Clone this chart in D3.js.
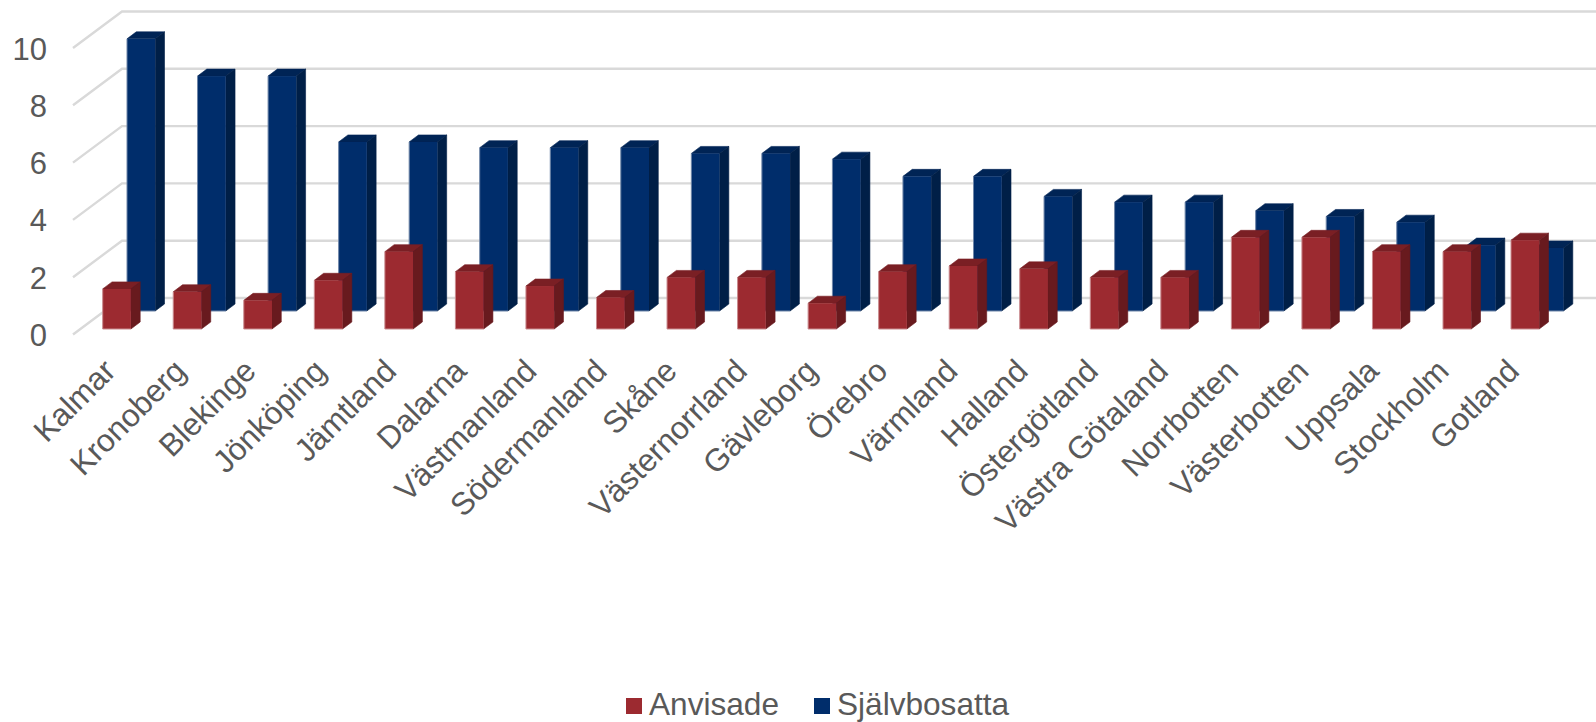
<!DOCTYPE html>
<html><head><meta charset="utf-8">
<script src="https://cdnjs.cloudflare.com/ajax/libs/d3/7.8.5/d3.min.js"></script>
<style>html,body{margin:0;padding:0;background:#fff}svg{display:block}</style>
</head><body><svg id="c" width="1596" height="722"></svg>
<script>
const categories=["Kalmar","Kronoberg","Blekinge","Jönköping","Jämtland","Dalarna","Västmanland","Södermanland","Skåne","Västernorrland","Gävleborg","Örebro","Värmland","Halland","Östergötland","Västra Götaland","Norrbotten","Västerbotten","Uppsala","Stockholm","Gotland"];
const anvisade=[1.4,1.3,1.0,1.7,2.7,2.0,1.5,1.1,1.8,1.8,0.9,2.0,2.2,2.1,1.8,1.8,3.2,3.2,2.7,2.7,3.1];
const sjalvbosatta=[9.5,8.2,8.2,5.9,5.9,5.7,5.7,5.7,5.5,5.5,5.3,4.7,4.7,4.0,3.8,3.8,3.5,3.3,3.1,2.3,2.2];
const yTicks=[0,2,4,6,8,10];
const seriesNames=["Anvisade","Självbosatta"];

const svg=d3.select("#c");
const font="'Liberation Sans',Arial,sans-serif";
const textCol="#595959", gridCol="#D9D9D9";

const yFront=d3.scaleLinear().domain([0,10]).range([334.5,48]);
const yBack=d3.scaleLinear().domain([0,10]).range([298,11.5]);
const yRed=d3.scaleLinear().domain([0,10]).range([329,42.5]);
const yBlue=d3.scaleLinear().domain([0,10]).range([311,24.5]);
const xFront=73,xBack=122,xEnd=1596;
const idx=d3.scaleLinear().domain([0,19,20]).range([102.7,1443,1511]);
const labelX=d3.scaleLinear().domain([0,20]).range([111.5,1515]);
const barW=28.2,dx=9.3,dy=7;

const grid=svg.append("g");
yTicks.forEach(t=>{
  grid.append("path").attr("d",d3.line()([[xFront,yFront(t)],[xBack,yBack(t)],[xEnd,yBack(t)]]))
   .attr("fill","none").attr("stroke",gridCol).attr("stroke-width",2.4);
});
svg.append("g").selectAll("text").data(yTicks).join("text")
 .attr("x",47).attr("y",d=>yFront(d)+11.5).attr("text-anchor","end")
 .attr("font-family",font).attr("font-size",31).attr("fill",textCol).text(d=>d);

function bars(vals,y,off,front,top,side,edge){
  const g=svg.append("g");
  vals.forEach((v,i)=>{
    const x0=idx(i)+off,x1=x0+barW,yt=y(v),yb=y(0);
    g.append("path").attr("d",d3.line()([[x0,yt],[x0+dx,yt-dy],[x1+dx,yt-dy],[x1,yt]])+"Z")
      .attr("fill",top).attr("stroke",top).attr("stroke-width",0.6);
    g.append("path").attr("d",d3.line()([[x1,yt],[x1+dx,yt-dy],[x1+dx,yb-dy],[x1,yb]])+"Z")
      .attr("fill",side).attr("stroke",side).attr("stroke-width",0.6);
    g.append("rect").attr("x",x0).attr("y",yt).attr("width",barW).attr("height",yb-yt).attr("fill",front);
    g.append("path").attr("d",d3.line()([[x0,yt],[x0,yb],[x1,yb]]))
      .attr("fill","none").attr("stroke",edge).attr("stroke-width",1);
  });
}
bars(sjalvbosatta,yBlue,24.3,"#002D6B","#002455","#001F47","#6f86a8");
bars(anvisade,yRed,0,"#9C2A30","#7A1F24","#681A1E","#c98a8e");

svg.append("g").selectAll("text").data(categories).join("text")
 .attr("transform",(d,i)=>`translate(${labelX(i)},367) rotate(-45)`)
 .attr("text-anchor","end").attr("dominant-baseline","middle")
 .attr("font-family",font).attr("font-size",31.6).attr("fill",textCol).text(d=>d);

const legend=svg.append("g");
const legendX=d3.scaleOrdinal().domain(seriesNames).range([626,814]);
const legendCol=d3.scaleOrdinal().domain(seriesNames).range(["#9C2A30","#002D6B"]);
seriesNames.forEach(n=>{
  legend.append("rect").attr("x",legendX(n)).attr("y",698).attr("width",16).attr("height",16).attr("fill",legendCol(n));
  legend.append("text").attr("x",legendX(n)+23).attr("y",715).attr("font-family",font).attr("font-size",31.6).attr("fill",textCol).text(n);
});
</script></body></html>
